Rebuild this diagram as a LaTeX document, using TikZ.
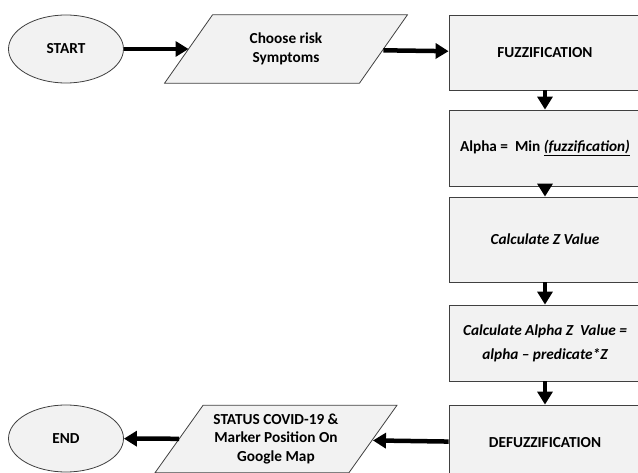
\documentclass[tikz,border=0pt]{standalone}
\usepackage{fontspec}
\setmainfont{Carlito}
\usetikzlibrary{shapes.geometric,arrows.meta,backgrounds}

\begin{document}
\begin{tikzpicture}[x=1pt,y=-1pt,
		every node/.style={font=\bfseries\fontsize{15.3}{18.5}\selectfont, align=center},
		shade box/.style={draw=black!75, fill=black!5, line width=0.8pt},
		box/.style={shade box, minimum width=192pt, inner sep=0pt},
		io/.style={inner sep=0pt},
		term/.style={shade box, ellipse, minimum width=115pt, minimum height=68pt, inner sep=0pt},
		flow/.style={-{Triangle[length=13pt,width=15pt]}, line width=4.5pt}]
					\useasboundingbox (0, 0) rectangle (638, 473);
					\node[term] (start) at (66, 49) {START};
					\node[io, minimum width=194.5pt, minimum height=68pt] (choose) at (286, 49) {Choose risk\\Symptoms};
					\node[box, minimum height=75pt] (fuzz) at (545, 52.5) {FUZZIFICATION};
					\node[box, minimum height=76pt] (alpha) at (545, 148) {Alpha = \ Min \underline{\itshape (fuzzification)}};
					\node[box, minimum height=85pt] (calcz) at (545, 239.5) {\itshape Calculate Z Value};
					\node[box, minimum height=76pt, font=\bfseries\itshape\fontsize{15.3}{24}\selectfont] (alphaz) at (545, 343) {Calculate Alpha Z \ Value =\\alpha -- predicate*Z};
					\node[box, minimum height=76pt] (defuzz) at (545, 443) {DEFUZZIFICATION};
					\node[io, minimum width=193.5pt, minimum height=67pt] (status) at (276, 439) {STATUS COVID-19 \&\\Marker Position On\\Google Map};
					\node[term, minimum height=67pt] (end) at (66, 438.5) {END};
					% slanted input/output boxes behind their text
					\begin{scope}[on background layer]
						\foreach \n in {choose, status}
							\draw[shade box] ([xshift=-24pt]\n.south west) -- ([xshift=-24pt]\n.south east) -- ([xshift=24pt]\n.north east) -- ([xshift=24pt]\n.north west) -- cycle;
					\end{scope}
					\draw[flow] (start) -- (choose);
					\draw[flow] (choose) -- (fuzz);
					\draw[flow] (fuzz) -- (alpha);
					\draw[flow] (alpha) -- (calcz);
					\draw[flow] (calcz) -- (alphaz);
					\draw[flow] (alphaz) -- (defuzz);
					\draw[flow] (defuzz) -- (status);
					\draw[flow] (status) -- (end);
				\end{tikzpicture}
\end{document}
